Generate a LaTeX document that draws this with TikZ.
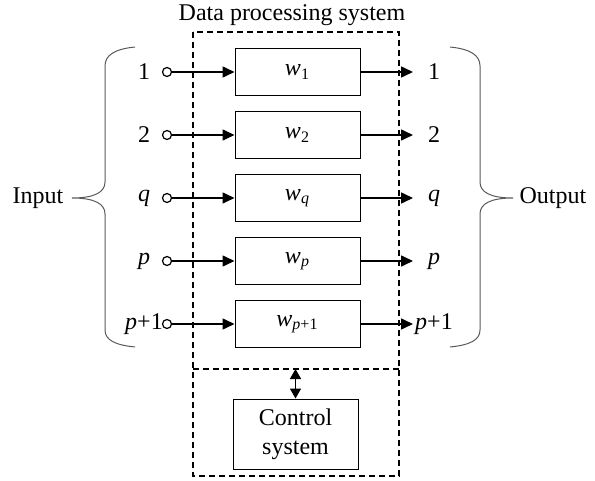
\documentclass[tikz,border=0pt]{standalone}
\usepackage{fontspec}
\setmainfont{Liberation Serif}
\usetikzlibrary{arrows.meta}

\tikzset{
  wbox/.style={draw, line width=0.5pt, minimum width=62.5pt, minimum height=23.5pt, inner sep=0pt},
  port/.style={circle, draw, line width=0.6pt, inner sep=0pt, minimum size=4.5pt, fill=white},
  sig/.style={line width=0.8pt, -{Triangle[length=6pt,width=5.5pt]}},
  dsig/.style={line width=0.8pt, {Triangle[length=5pt,width=5.5pt]}-{Triangle[length=5pt,width=5.5pt]}},
  frame/.style={line width=0.7pt, dash pattern=on 3pt off 2pt},
  brace/.style={line width=0.5pt, black!65},
}

\begin{document}
\begin{tikzpicture}[x=0.5pt, y=-0.5pt, font=\fontsize{12}{14.5}\selectfont]
    \useasboundingbox (0,0) rectangle (595,481);
    % data processing system
    \node (title) at (292,15) {Data processing system};
    \draw[frame] (193,32) rectangle (399,476);
    \draw[frame] (193,369) -- (399,369);
    % channels
    \foreach \y/\i/\lab/\sub in {72/a/1/1, 135/b/2/2, 198/c/{\textit{q}}/{\textit{q}},
        261/d/{\textit{p}}/{\textit{p}}, 324/e/{\textit{p}+1}/{\textit{p}+1}} {
        \node[wbox] (w\i) at (297.5,\y) {\textit{w}\textsubscript{\sub}};
        \node[port] (in\i) at (167,\y) {};
        \node (il\i) at (144,\y) {\lab};
        \coordinate (out\i) at (413,\y);
        \node (ol\i) at (434,\y) {\lab};
        \draw[sig] (in\i) -- (w\i);
        \draw[sig] (w\i) -- (out\i);
    }
    % control system
    \node[wbox, minimum height=35pt, align=center] (ctrl) at (295.5,434) {Control\\system};
    \coordinate (div) at (295.5,369);
    \draw[dsig] (div) -- (ctrl);
    % braces
    \draw[brace] (135,47) .. controls (115,49) and (105,55) .. (105,66) -- (105,182)
        .. controls (105,192) and (95,198) .. (72,198)
        .. controls (95,198) and (105,204) .. (105,214) -- (105,330)
        .. controls (105,340) and (115,345) .. (135,347);
    \draw[brace] (450,47) .. controls (470,49) and (480,55) .. (480,66) -- (480,182)
        .. controls (480,192) and (490,198) .. (513,198)
        .. controls (490,198) and (480,204) .. (480,214) -- (480,330)
        .. controls (480,340) and (470,345) .. (450,347);
    \node (input) at (38,198) {Input};
    \node (output) at (553,198) {Output};
\end{tikzpicture}
\end{document}
